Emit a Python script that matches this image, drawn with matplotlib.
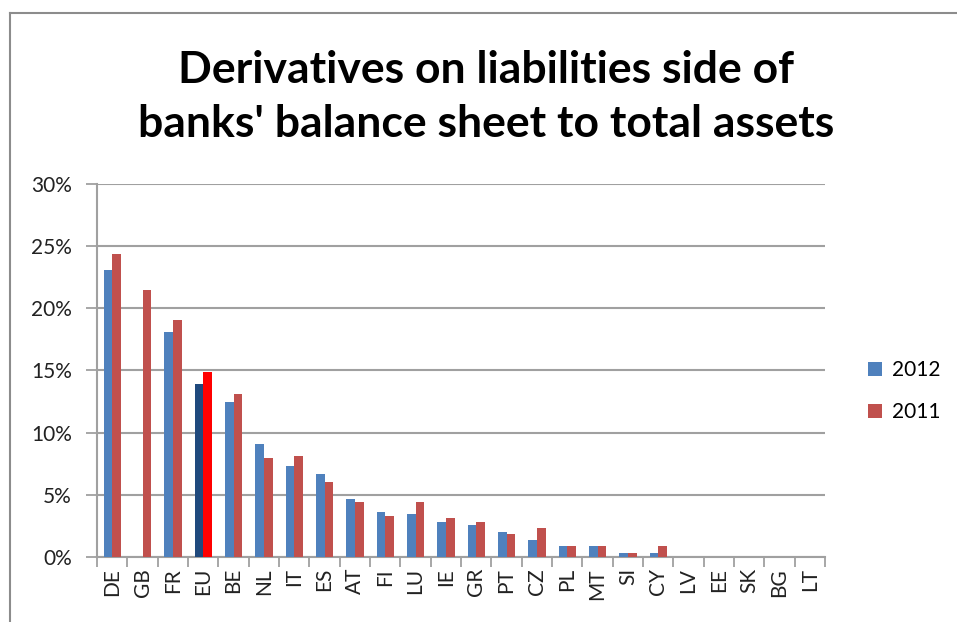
import numpy as np
import matplotlib.pyplot as plt
from matplotlib.lines import Line2D
from matplotlib.ticker import PercentFormatter

# values (percent of total assets)
countries = ['DE', 'GB', 'FR', 'EU', 'BE', 'NL', 'IT', 'ES', 'AT', 'FI', 'LU', 'IE',
             'GR', 'PT', 'CZ', 'PL', 'MT', 'SI', 'CY', 'LV', 'EE', 'SK', 'BG', 'LT']
vals_2012 = [23.1, 0.0, 18.1, 13.9, 12.5, 9.1, 7.3, 6.7, 4.7, 3.6, 3.45, 2.8,
             2.6, 2.0, 1.35, 0.85, 0.85, 0.35, 0.35, 0, 0, 0, 0, 0]
vals_2011 = [24.35, 21.5, 19.07, 14.9, 13.1, 7.96, 8.1, 6.0, 4.4, 3.3, 4.4, 3.1,
             2.8, 1.85, 2.3, 0.85, 0.85, 0.35, 0.85, 0, 0, 0, 0, 0]
yticks = [0, 5, 10, 15, 20, 25, 30]

blue = '#4F81BD'
red = '#C0504D'
cols_2012 = [('#1F497D' if c == 'EU' else blue) for c in countries]
cols_2011 = [('#FF0000' if c == 'EU' else red) for c in countries]

plt.rcParams['font.family'] = ['Lato', 'DejaVu Sans']

fig = plt.figure(figsize=(9.57, 6.22), dpi=100)
ax = fig.add_axes([0.1014, 0.1045, 0.7607, 0.5997])

x = np.arange(len(countries))
w = 0.286
ax.bar(x - w / 2, vals_2012, w, color=cols_2012, label='2012', zorder=3)
ax.bar(x + w / 2, vals_2011, w, color=cols_2011, label='2011', zorder=3)

ax.set_xlim(-0.5, len(countries) - 0.5)
ax.set_ylim(0, 30)
ax.set_yticks(yticks)
ax.yaxis.set_major_formatter(PercentFormatter(decimals=0))
ax.yaxis.grid(True, color='#A0A0A0', linewidth=1.5, zorder=0)

ax.set_xticks(x)
ax.set_xticklabels(countries, rotation=90, fontsize=15, color='#222222')
ax.set_xticks(np.arange(-0.5, len(countries)), minor=True)
ax.tick_params(axis='x', which='major', length=0, pad=8)
ax.tick_params(axis='x', which='minor', length=7, width=1.3, color='#A0A0A0')
ax.tick_params(axis='y', length=8, width=1.3, color='#A0A0A0', labelsize=15,
               labelcolor='#222222', pad=10)

for s in ['top', 'right']:
    ax.spines[s].set_visible(False)
for s in ['left', 'bottom']:
    ax.spines[s].set_color('#A0A0A0')
    ax.spines[s].set_linewidth(1.5)

ax.legend(loc='center left', bbox_to_anchor=(1.059, 0.444), frameon=False,
          fontsize=15, handlelength=0.67, handleheight=0.67, labelspacing=1.06,
          handletextpad=0.48, borderaxespad=0, borderpad=0)

fig.text(0.508, 0.844, "Derivatives on liabilities side of\nbanks' balance sheet to total assets",
         ha='center', va='center', fontsize=32, fontweight='bold', linespacing=1.45)

# outer chart border (only top and left edges show in the crop)
fig.add_artist(Line2D([10 / 957, 10 / 957], [0, 1 - 13 / 622], transform=fig.transFigure,
                      color='#8C8C8C', linewidth=1.5))
fig.add_artist(Line2D([10 / 957, 1], [1 - 13 / 622, 1 - 13 / 622], transform=fig.transFigure,
                      color='#8C8C8C', linewidth=1.5))

fig.savefig('out.png', dpi=100)
